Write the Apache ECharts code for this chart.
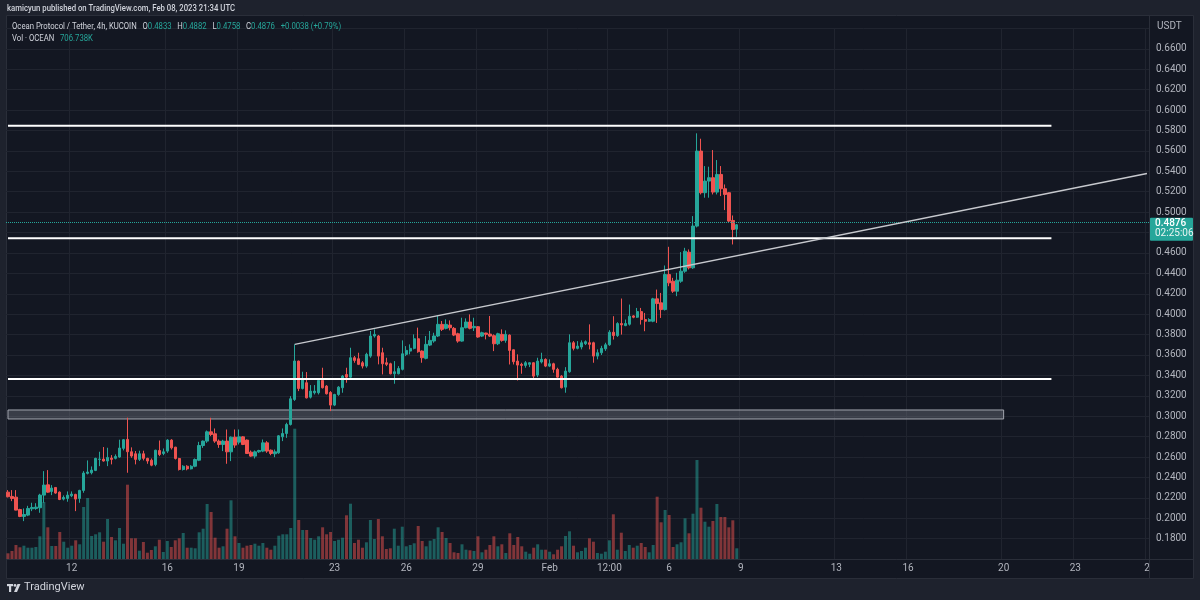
<!DOCTYPE html>
<html><head><meta charset="utf-8">
<script src="https://cdn.jsdelivr.net/npm/echarts/dist/echarts.min.js"></script>
<style>html,body{margin:0;padding:0;background:#1e222d}#c{width:1200px;height:600px}</style>
</head><body><div id="c"></div><script>
// ---- data (4h candles, OCEAN/USDT, KuCoin) ----
const startTime = Date.UTC(2023, 0, 9, 8);   // first candle
const categoryCount = 287;                    // axis runs to Feb 26 00:00
const opens = [
.2256,.2214,.2207,.2086,.2018,.2031,.2093,.2096,.2103,.2227,
.2328,.2263,.2302,.2256,.2188,.2194,.2220,.2234,.2194,.2273,
.2440,.2446,.2469,.2577,.2580,.2561,.2590,.2587,.2600,.2685,
.2773,.2652,.2632,.2577,.2632,.2587,.2569,.2527,.2664,.2635,
.2658,.2766,.2697,.2586,.2478,.2510,.2484,.2510,.2569,.2713,
.2756,.2847,.2828,.2756,.2723,.2756,.2651,.2795,.2746,.2798,
.2766,.2648,.2609,.2651,.2658,.2739,.2667,.2632,.2641,.2798,
.2831,.2919,.3164,.3540,.3272,.3328,.3187,.3230,.3230,.3351,
.3295,.3233,.3109,.3213,.3279,.3409,.3383,.3573,.3563,.3524,
.3491,.3589,.3786,.3786,.3622,.3524,.3514,.3416,.3416,.3459,
.3606,.3638,.3665,.3759,.3638,.3567,.3697,.3737,.3786,.3900,
.3861,.3893,.3861,.3808,.3736,.3867,.3923,.3867,.3877,.3785,
.3815,.3805,.3789,.3710,.3802,.3743,.3795,.3651,.3540,.3508,
.3498,.3508,.3524,.3403,.3531,.3557,.3491,.3514,.3459,.3393,
.3285,.3436,.3720,.3665,.3678,.3710,.3720,.3720,.3589,.3622,
.3660,.3700,.3823,.3790,.3908,.3888,.3901,.3983,.3970,.4025,
.3947,.3931,.3931,.4150,.4111,.4045,.4388,.4323,.4225,.4323,
.4421,.4607,.4454,.4863,.5598,.5190,.5304,.5337,.5196,.5369,
.5229,.5190,.4918,.4833];
const highs = [
.2276,.2276,.2276,.2093,.2096,.2122,.2152,.2148,.2240,.2462,
.2472,.2325,.2305,.2263,.2224,.2263,.2263,.2240,.2279,.2462,
.2567,.2508,.2593,.2652,.2698,.2691,.2619,.2626,.2770,.2776,
.2986,.2695,.2659,.2662,.2662,.2593,.2586,.2671,.2762,.2684,
.2775,.2775,.2700,.2592,.2520,.2520,.2520,.2586,.2749,.2762,
.2860,.2985,.2880,.2772,.2769,.2870,.2802,.2870,.2870,.2805,
.2772,.2664,.2664,.2671,.2772,.2756,.2674,.2674,.2815,.2880,
.2936,.3197,.3704,.3545,.3436,.3433,.3305,.3305,.3360,.3475,
.3305,.3246,.3220,.3295,.3403,.3475,.3671,.3590,.3622,.3540,
.3622,.3835,.3851,.3795,.3671,.3573,.3524,.3540,.3491,.3743,
.3687,.3704,.3802,.3868,.3645,.3786,.3835,.3818,.3982,.3933,
.3949,.3939,.3874,.3818,.3965,.3959,.3998,.3965,.3884,.3828,
.3818,.3982,.3802,.3818,.3851,.3841,.3802,.3655,.3606,.3524,
.3540,.3530,.3530,.3573,.3622,.3567,.3557,.3524,.3475,.3403,
.3481,.3802,.3736,.3736,.3743,.3743,.3900,.3730,.3655,.3690,
.3720,.3843,.3980,.3921,.4153,.3947,.4094,.3990,.4061,.4061,
.4012,.3960,.4160,.4241,.4208,.4477,.4660,.4356,.4405,.4608,
.4650,.4634,.4961,.5772,.5719,.5451,.5445,.5608,.5510,.5451,
.5271,.5196,.4967,.4882];
const lows = [
.2204,.2168,.2078,.2011,.1972,.2021,.2070,.2083,.2054,.2152,
.2250,.2227,.2240,.2178,.2175,.2162,.2207,.2070,.2152,.2250,
.2430,.2430,.2462,.2511,.2555,.2511,.2528,.2577,.2593,.2665,
.2446,.2593,.2528,.2561,.2567,.2534,.2510,.2510,.2609,.2618,
.2641,.2674,.2576,.2468,.2468,.2470,.2478,.2500,.2560,.2690,
.2739,.2805,.2739,.2690,.2658,.2534,.2560,.2690,.2723,.2717,
.2632,.2602,.2586,.2641,.2648,.2641,.2618,.2599,.2632,.2756,
.2788,.2909,.3150,.3246,.3262,.3174,.3174,.3213,.3213,.3272,
.3213,.3050,.3099,.3200,.3230,.3328,.3377,.3524,.3501,.3468,
.3475,.3573,.3770,.3508,.3410,.3491,.3410,.3318,.3410,.3449,
.3589,.3606,.3655,.3622,.3524,.3557,.3687,.3720,.3776,.3835,
.3851,.3841,.3785,.3720,.3730,.3861,.3851,.3835,.3769,.3776,
.3753,.3776,.3638,.3697,.3730,.3720,.3507,.3507,.3350,.3416,
.3475,.3481,.3370,.3383,.3517,.3481,.3481,.3426,.3377,.3272,
.3230,.3426,.3645,.3655,.3655,.3697,.3655,.3524,.3557,.3600,
.3640,.3690,.3751,.3777,.3800,.3882,.3888,.3960,.3963,.3898,
.3833,.3925,.3921,.3914,.3963,.4035,.4274,.4208,.4176,.4307,
.4405,.4438,.4444,.4850,.5173,.5141,.5141,.5173,.5173,.5157,
.5020,.4895,.4683,.4758];
const closes = [
.2211,.2194,.2080,.2018,.2037,.2096,.2106,.2109,.2227,.2325,
.2256,.2296,.2247,.2184,.2204,.2227,.2237,.2188,.2273,.2443,
.2453,.2472,.2587,.2580,.2561,.2596,.2577,.2606,.2688,.2770,
.2652,.2610,.2577,.2632,.2587,.2561,.2520,.2667,.2625,.2651,
.2766,.2690,.2586,.2478,.2510,.2484,.2510,.2576,.2713,.2756,
.2847,.2821,.2756,.2723,.2756,.2651,.2795,.2717,.2798,.2723,
.2635,.2609,.2651,.2664,.2739,.2658,.2635,.2651,.2808,.2831,
.2919,.3171,.3541,.3272,.3360,.3180,.3246,.3246,.3351,.3279,
.3220,.3109,.3213,.3285,.3393,.3383,.3573,.3547,.3508,.3491,
.3606,.3786,.3802,.3589,.3514,.3508,.3416,.3436,.3468,.3612,
.3645,.3665,.3759,.3632,.3573,.3704,.3743,.3786,.3900,.3851,
.3900,.3867,.3795,.3736,.3867,.3923,.3861,.3880,.3776,.3818,
.3802,.3785,.3710,.3808,.3743,.3802,.3645,.3534,.3501,.3498,
.3524,.3524,.3393,.3540,.3557,.3491,.3514,.3459,.3383,.3279,
.3442,.3720,.3665,.3687,.3720,.3730,.3704,.3589,.3622,.3665,
.3700,.3823,.3790,.3908,.3895,.3908,.3980,.3970,.4025,.3947,
.3931,.3947,.4150,.4104,.4045,.4388,.4307,.4225,.4333,.4421,
.4617,.4454,.4863,.5598,.5190,.5304,.5337,.5196,.5369,.5229,
.5173,.4912,.4830,.4876];
const volumesK = [
376,528,924,772,878,746,746,792,1498,3762,
2092,858,858,1782,1142,746,878,1234,970,3432,
4026,1518,1630,1762,1142,2640,1452,1234,2046,1010,
4904,1366,1366,548,1122,416,594,838,1274,462,
1188,792,1234,1366,1716,746,746,706,1762,2000,
3630,3102,1406,746,838,2000,3874,1498,1056,746,
878,924,1010,878,1056,746,614,878,1538,1630,
1630,2046,8600,2574,1914,1914,1386,1274,1498,2092,
1630,1782,1188,1274,1406,2884,3650,1056,1274,746,
1102,2574,1320,2640,1498,660,706,2000,878,2132,
838,924,1036,2178,1188,838,1208,1320,2092,1782,
1386,1056,442,396,970,614,574,528,1498,442,
614,924,1498,838,970,396,1696,924,1452,838,
482,350,746,970,614,614,482,310,614,838,
1518,1828,878,442,528,746,1366,1142,396,350,
482,1234,2950,614,1736,528,924,746,878,1056,
792,442,924,4112,2422,3234,2904,792,970,1102,
2686,1696,2990,6534,3386,2462,2132,2508,3630,2772,
2772,2092,2554,706.738];
const tickTimes = ['2023-01-12 00:00','2023-01-16 00:00','2023-01-19 00:00','2023-01-23 00:00','2023-01-26 00:00','2023-01-29 00:00','2023-02-01 00:00','2023-02-03 12:00','2023-02-06 00:00','2023-02-09 00:00','2023-02-13 00:00','2023-02-16 00:00','2023-02-20 00:00','2023-02-23 00:00','2023-02-26 00:00'];
const tickLabels = ['12','16','19','23','26','29','Feb','12:00','6','9','13','16','20','23','2'];
// drawings
const levelPrices = [0.5847, 0.4743, 0.3364];
const levelEnd = '2023-02-22 00:00';
const zoneRange = [0.2973, 0.3061];
const zoneEnd = '2023-02-20 00:00';
const trendLine = [['2023-01-21 08:00', 0.3704], ['2023-02-26 00:00', 0.5378]];
const lastPrice = 0.4876;
const countdown = '02:25:06';

// ---- build ----
function fmt(ms){const d=new Date(ms);const p=n=>String(n).padStart(2,'0');
  return d.getUTCFullYear()+'-'+p(d.getUTCMonth()+1)+'-'+p(d.getUTCDate())+' '+p(d.getUTCHours())+':'+p(d.getUTCMinutes());}
const categories = [];
for (let i=0;i<categoryCount;i++) categories.push(fmt(startTime + i*4*3600*1000));
const UP='#26a69a', DOWN='#ef5350';
const candleData = opens.map((o,i)=>[o, closes[i], lows[i], highs[i]]);
const volData = volumesK.map((v,i)=>({value:v, itemStyle:{color: closes[i]>=opens[i]?'rgba(38,166,154,0.5)':'rgba(239,83,80,0.5)'}}));
const tickSet = new Set(tickTimes);
const isTick = (idx, val) => tickSet.has(categories[idx]);
const FONT = 'Roboto, "Liberation Sans", sans-serif';
const GRIDC = '#20242f';
const HS = 0.86; // header text horizontal scale
const HF = 9;    // header font size

const chart = echarts.init(document.getElementById('c'), null, {renderer:'canvas'});
const levelSeries = levelPrices.map(p => ({
  type:'line', xAxisIndex:0, yAxisIndex:0, symbol:'none', silent:true, z:6,
  lineStyle:{color:'#ffffff', width:2}, data:[[categories[0], p],[levelEnd, p]]
}));
const staticGraphics = [
  {type:'rect', z:-100, silent:true, shape:{x:6.5,y:15.5,width:1187,height:563}, style:{fill:'#131722', stroke:'#2a2e39', lineWidth:1}},
  {type:'line', z:50, silent:true, shape:{x1:1149.5,y1:15,x2:1149.5,y2:578}, style:{stroke:'#2a2e39', lineWidth:1}},
  {type:'line', z:50, silent:true, shape:{x1:6,y1:559.5,x2:1193,y2:559.5}, style:{stroke:'#2a2e39', lineWidth:1}},
  {type:'text', z:50, x:1157, y:21, style:{text:'USDT', fill:'#b2b5be', fontSize:10, fontFamily:FONT, verticalAlign:'top'}},
  {type:'text', z:50, x:7, y:4, scaleX:HS, style:{text:'kamicyun published on TradingView.com, Feb 08, 2023 21:34 UTC', fill:'#d1d4dc', fontSize:HF, fontWeight:500, fontFamily:FONT, verticalAlign:'top'}},
  {type:'text', z:50, x:12, y:21, scaleX:HS, style:{
    text:'{t|Ocean Protocol / Tether, 4h, KUCOIN}  {t|O}{v|0.4833}  {t|H}{v|0.4882}  {t|L}{v|0.4758}  {t|C}{v|0.4876}  {v|+0.0038 (+0.79%)}',
    verticalAlign:'top',
    rich:{t:{fill:'#d1d4dc', fontSize:HF, fontFamily:FONT}, v:{fill:UP, fontSize:HF, fontFamily:FONT}}}},
  {type:'text', z:50, x:12, y:33, scaleX:HS, style:{
    text:'{t|Vol · OCEAN}  {v|706.738K}', verticalAlign:'top',
    rich:{t:{fill:'#d1d4dc', fontSize:HF, fontFamily:FONT}, v:{fill:UP, fontSize:HF, fontFamily:FONT}}}},
  {type:'group', x:7, y:584, children:[
    {type:'rect', shape:{x:0,y:0,width:6,height:2.2}, style:{fill:'#d1d4dc'}},
    {type:'rect', shape:{x:2,y:0,width:2.2,height:8}, style:{fill:'#d1d4dc'}},
    {type:'circle', shape:{cx:8,cy:1.4,r:1.4}, style:{fill:'#d1d4dc'}},
    {type:'polygon', shape:{points:[[10.5,0],[13.5,0],[10,8],[7,8]]}, style:{fill:'#d1d4dc'}}
  ]},
  {type:'text', z:50, x:24, y:582, style:{text:'TradingView', fill:'#d1d4dc', fontSize:11, fontFamily:FONT, verticalAlign:'top'}}
];
chart.setOption({
  backgroundColor:'#1e222d',
  animation:false,
  grid:[
    {left:6, right:51, top:28.4, bottom:40.9},
    {left:6, right:51, top:400, bottom:41}
  ],
  xAxis:[
    {type:'category', gridIndex:0, data:categories, boundaryGap:true,
     axisLine:{show:false}, axisTick:{show:false}, axisLabel:{show:false},
     splitLine:{show:true, interval:isTick, lineStyle:{color:GRIDC, width:1}}},
    {type:'category', gridIndex:1, data:categories, boundaryGap:true,
     axisLine:{show:false}, axisTick:{show:false},
     axisLabel:{show:true, interval:isTick, color:'#b2b5be', fontSize:10, fontFamily:FONT, margin:4,
       formatter:(v)=>{const k=tickTimes.indexOf(v); return k>=0?tickLabels[k]:'';}},
     splitLine:{show:false}}
  ],
  yAxis:[
    {type:'value', gridIndex:0, position:'right', min:0.16, max:0.68, interval:0.02,
     axisLine:{show:false}, axisTick:{show:false},
     axisLabel:{color:'#b2b5be', fontSize:10, fontFamily:FONT, margin:7, showMinLabel:false, showMaxLabel:false,
       formatter:(v)=>v.toFixed(4)},
     splitLine:{show:true, lineStyle:{color:GRIDC, width:1}}},
    {type:'value', gridIndex:1, min:0, max:10494, show:false, splitLine:{show:false}}
  ],
  series:[
    {type:'bar', xAxisIndex:1, yAxisIndex:1, data:volData, barWidth:'75%', silent:true, z:1},
    {type:'candlestick', xAxisIndex:0, yAxisIndex:0, data:candleData, barWidth:'72%', z:3,
     itemStyle:{color:UP, color0:DOWN, borderColor:UP, borderColor0:DOWN, borderWidth:1},
     markArea:{silent:true,
       itemStyle:{color:'rgba(120,123,134,0.38)', borderColor:'#a3a6af', borderWidth:1},
       data:[[{coord:[categories[0], zoneRange[1]]},{coord:[zoneEnd, zoneRange[0]]}]]},
     markLine:{silent:true, symbol:['none','none'], animation:false,
       lineStyle:{color:UP, type:'dotted', width:1},
       label:{show:false},
       data:[{yAxis:lastPrice}]}
    },
    ...levelSeries,
    {type:'line', xAxisIndex:0, yAxisIndex:0, symbol:'none', silent:true, z:6,
     lineStyle:{color:'#c7c9ce', width:1.5}, data:trendLine}
  ],
  graphic:{elements:staticGraphics}
});
// last-price tag on the right axis, placed through the price scale
const py = chart.convertToPixel({yAxisIndex:0}, lastPrice);
chart.setOption({graphic:{elements:staticGraphics.concat([
  {type:'rect', z:60, silent:true, shape:{x:1150, y:py-7, width:43, height:23, r:1}, style:{fill:UP}},
  {type:'text', z:61, silent:true, x:1155, y:py-6, style:{text:lastPrice.toFixed(4), fill:'#ffffff', fontSize:10, fontWeight:500, fontFamily:FONT, verticalAlign:'top'}},
  {type:'text', z:61, silent:true, x:1155, y:py+4, style:{text:countdown, fill:'#e8f5f3', fontSize:10, fontFamily:FONT, verticalAlign:'top'}}
])}});
</script></body></html>
